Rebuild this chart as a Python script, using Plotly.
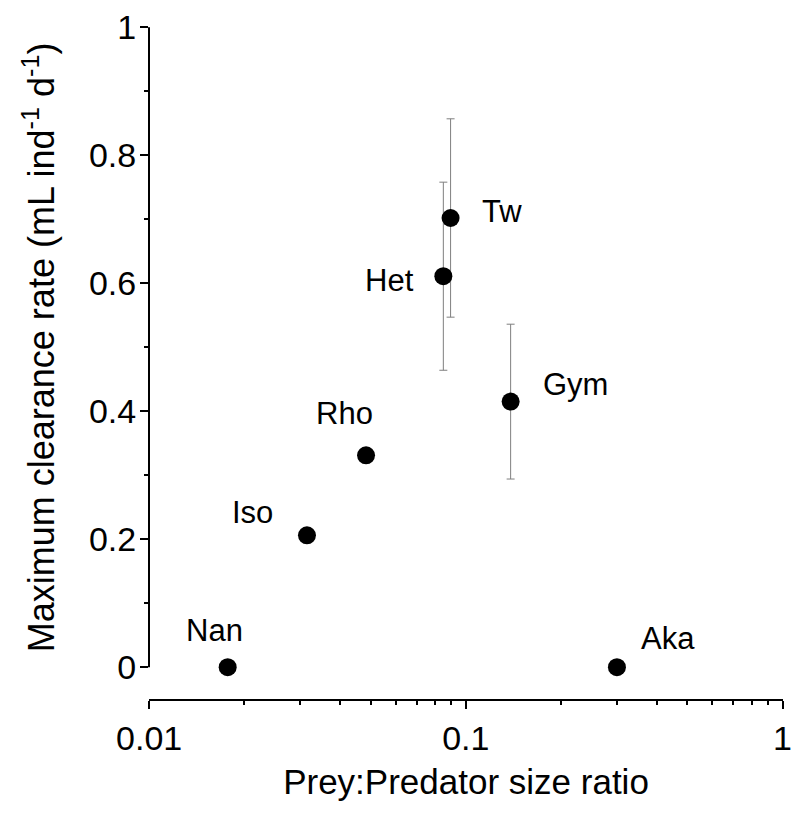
import math
import plotly.graph_objects as go

# ---- data ----
species = ["Nan", "Iso", "Rho", "Het", "Tw", "Gym", "Aka"]
size_ratio = [0.0177, 0.0315, 0.0484, 0.0849, 0.0895, 0.1385, 0.300]
clearance = [0.0, 0.206, 0.331, 0.611, 0.702, 0.415, 0.0]
clearance_err = [0.0, 0.0, 0.0, 0.147, 0.155, 0.121, 0.0]

x_tickvals = [0.01, 0.1, 1]
x_ticktext = ["0.01", "0.1", "1"]
x_minor = [0.02, 0.03, 0.04, 0.05, 0.06, 0.07, 0.08, 0.09,
           0.2, 0.3, 0.4, 0.5, 0.6, 0.7, 0.8, 0.9]
y_tickvals = [0, 0.2, 0.4, 0.6, 0.8, 1]
y_ticktext = ["0", "0.2", "0.4", "0.6", "0.8", "1"]
y_minor = [0.1, 0.3, 0.5, 0.7, 0.9]

# label placement (style): anchor, x offset px, y offset px
label_style = {
    "Nan": ("center", -13, 37),
    "Iso": ("center", -54, 23),
    "Rho": ("center", -22, 42),
    "Het": ("right", -28, -4),
    "Tw": ("left", 30, 6),
    "Gym": ("left", 31, 17),
    "Aka": ("left", 23, 29),
}

FONT = "Liberation Sans, Arial, sans-serif"

fig = go.Figure()
fig.add_trace(go.Scatter(
    x=size_ratio, y=clearance, mode="markers",
    marker=dict(color="black", size=18),
    error_y=dict(type="data", array=clearance_err, visible=True,
                 color="#7f7f7f", thickness=1, width=4),
    showlegend=False, hoverinfo="skip",
))

annotations = []
for name, xv, yv in zip(species, size_ratio, clearance):
    anchor, dx, dy = label_style[name]
    annotations.append(dict(
        x=math.log10(xv), y=yv, xref="x", yref="y", text=name,
        showarrow=False, xanchor=anchor, yanchor="middle",
        xshift=dx, yshift=dy, borderpad=0,
        font=dict(family=FONT, size=31, color="black"),
    ))

# y-axis title centred on the 0-1 span
annotations.append(dict(
    x=0, y=0.5, xref="paper", yref="y", xshift=-110,
    text="Maximum clearance rate (mL ind<sup>-1</sup> d<sup>-1</sup>)",
    textangle=-90, showarrow=False, xanchor="center", yanchor="middle",
    font=dict(family=FONT, size=36, color="black"),
))

fig.update_layout(
    width=800, height=813,
    margin=dict(l=149, r=8, t=23, b=114),
    paper_bgcolor="white", plot_bgcolor="white",
    font=dict(family=FONT, size=34, color="black"),
    annotations=annotations,
    shapes=[dict(type="line", xref="paper", yref="y", x0=0, x1=0,
                 y0=0, y1=1, line=dict(color="black", width=2))],
)

fig.update_xaxes(
    type="log", range=[-2.0005, 0.0015],
    showline=True, linecolor="black", linewidth=2, mirror=False,
    showgrid=False, zeroline=False,
    ticks="outside", ticklen=8, tickwidth=2, tickcolor="black",
    tickvals=x_tickvals, ticktext=x_ticktext,
    ticklabeloverflow="allow",
    tickfont=dict(family=FONT, size=34),
    minor=dict(ticks="outside", ticklen=4, tickwidth=2, tickcolor="black",
               tickvals=x_minor, showgrid=False),
    title=dict(text="Prey:Predator size ratio",
               font=dict(family=FONT, size=35), standoff=14),
)
fig.update_yaxes(
    range=[-0.0498, 1.0005],
    showline=False, showgrid=False, zeroline=False,
    ticks="outside", ticklen=8, tickwidth=2, tickcolor="black",
    tickvals=y_tickvals, ticktext=y_ticktext,
    ticklabeloverflow="allow", ticklabelstandoff=-3,
    tickfont=dict(family=FONT, size=34),
    minor=dict(ticks="outside", ticklen=4, tickwidth=2, tickcolor="black",
               tickvals=y_minor, showgrid=False),
)

# remove the browser's default 8px body margin so the figure sits at (0, 0)
fig.write_html("out.html", config={"displayModeBar": False},
               post_script="document.body.style.margin='0';")
